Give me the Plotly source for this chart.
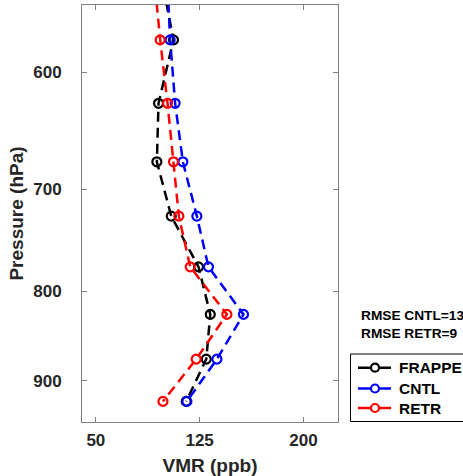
import numpy as np
import plotly.graph_objects as go

pressure = [525, 575, 625, 675, 725, 775, 825, 875, 925]
frappe = [96.5, 106.1, 95.3, 94.1, 104.5, 124.2, 132.7, 129.8, 115.3]
cntl = [101.3, 103.7, 107.3, 112.9, 123.0, 131.4, 156.7, 137.5, 115.8]
retr = [91.7, 96.5, 101.8, 106.1, 110.0, 118.2, 144.7, 122.5, 98.5]

series = [("FRAPPE", frappe, "#000000"), ("CNTL", cntl, "#0000ff"), ("RETR", retr, "#ff0000")]
ytick_vals = [600, 700, 800, 900]
xtick_vals = [50, 125, 200]
rmse_lines = ["RMSE CNTL=13", "RMSE RETR=9"]

FONT = "Liberation Sans"
W, H = 463, 476
ML, MR, MT, MB = 82, 125, 5, 54
PW, PH = W - ML - MR, H - MT - MB


def px(xpix):
    return (xpix - ML) / PW


def py(ypix):
    return (H - MB - ypix) / PH


fig = go.Figure()
for name, vals, col in series:
    fig.add_trace(go.Scatter(
        x=vals, y=pressure, name=name, mode="lines+markers",
        line=dict(color=col, width=2.5, dash="10px,6px"),
        marker=dict(symbol="circle-open", size=9, color=col, line=dict(width=2.2, color=col)),
        cliponaxis=True, showlegend=False,
    ))

axis_common = dict(
    showline=True, linecolor="#808080", linewidth=1, mirror="ticks",
    ticks="inside", ticklen=5, tickcolor="#808080", tickwidth=1,
    showgrid=False, zeroline=False,
    tickfont=dict(family=FONT, size=17, color="#262626", weight="bold"),
)

fig.update_layout(
    width=W, height=H,
    margin=dict(l=ML, r=MR, t=MT, b=MB, autoexpand=False),
    paper_bgcolor="white", plot_bgcolor="white",
    xaxis=dict(range=[40, 225], tickvals=xtick_vals, ticklabelstandoff=3,
               title=dict(text="VMR (ppb)", standoff=11,
                          font=dict(family=FONT, size=19, color="#262626", weight="bold")),
               **axis_common),
    yaxis=dict(type="log", range=[np.log10(950.4), np.log10(549.2)],
               tickvals=ytick_vals, ticktext=[str(v) for v in ytick_vals], ticklabelstandoff=16,
               title=dict(text="Pressure (hPa)", standoff=4,
                          font=dict(family=FONT, size=19, color="#262626", weight="bold")),
               **axis_common),
    showlegend=False,
)

for i, txt in enumerate(rmse_lines):
    fig.add_annotation(text=txt, xref="paper", yref="paper", x=px(359), y=py(315 + 18 * i),
                       xanchor="left", yanchor="middle", showarrow=False,
                       font=dict(family=FONT, size=13.7, color="#000000", weight="bold"))

# legend box drawn by hand so its size matches the reference
fig.add_shape(type="rect", xref="paper", yref="paper", x0=px(350.5), x1=px(480),
              y0=py(421.5), y1=py(354), line=dict(color="#000000", width=1),
              fillcolor="white", layer="above")
legend_rows = [367.7, 388.5, 408]
for (name, vals, col), ry in zip(series, legend_rows):
    fig.add_shape(type="line", xref="paper", yref="paper", x0=px(358), x1=px(391),
                  y0=py(ry), y1=py(ry), line=dict(color=col, width=2.5), layer="above")
    fig.add_shape(type="circle", xref="paper", yref="paper", xsizemode="pixel", ysizemode="pixel",
                  xanchor=px(375), yanchor=py(ry), x0=-4, x1=4, y0=-4, y1=4,
                  line=dict(color=col, width=2.2), fillcolor="white", layer="above")
    fig.add_annotation(text=name, xref="paper", yref="paper", x=px(397), y=py(ry),
                       xanchor="left", yanchor="middle", showarrow=False,
                       font=dict(family=FONT, size=15.5, color="#000000", weight="bold"))

fig.write_html("out.html")
